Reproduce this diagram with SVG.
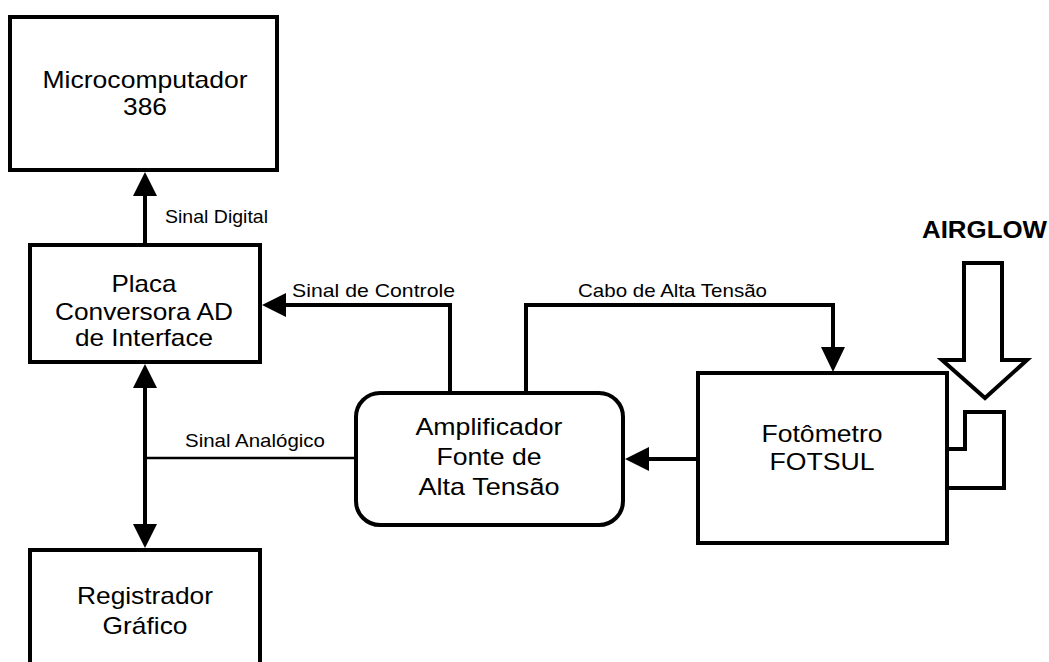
<svg xmlns="http://www.w3.org/2000/svg" width="1049" height="662" viewBox="0 0 1049 662">
<style>
.box{fill:#fff;stroke:#000;stroke-width:4}
.ln{fill:none;stroke:#000;stroke-width:4}
.thin{fill:none;stroke:#000;stroke-width:2.5}
.hd{fill:#000;stroke:none}
.nt{font-family:"Liberation Sans",Arial,sans-serif;font-size:24px;fill:#000;text-anchor:middle}
.lb{font-family:"Liberation Sans",Arial,sans-serif;font-size:19px;fill:#000}
.big{font-family:"Liberation Sans",Arial,sans-serif;font-size:23px;font-weight:bold;fill:#000}
</style>
<rect width="1049" height="662" fill="#fff"/>
<g id="connectors">
  <line class="ln" x1="145" y1="245" x2="145" y2="190"/>
  <polygon class="hd" points="145,172 133,196 157,196"/>
  <line class="ln" x1="145" y1="385" x2="145" y2="528"/>
  <polygon class="hd" points="145,364 133,388 157,388"/>
  <polygon class="hd" points="145,548 133,524 157,524"/>
  <line class="thin" x1="145" y1="458" x2="356" y2="458"/>
  <polyline class="ln" points="450,393 450,305 282,305"/>
  <polygon class="hd" points="262,305 286,293 286,317"/>
  <polyline class="ln" points="526,393 526,305 833,305 833,350"/>
  <polygon class="hd" points="833,372 821,347 845,347"/>
  <line class="ln" x1="698" y1="459" x2="645" y2="459"/>
  <polygon class="hd" points="625,459 649,447 649,471"/>
  <text class="lb" x="165" y="223" textLength="103" lengthAdjust="spacingAndGlyphs">Sinal Digital</text>
  <text class="lb" x="292" y="297" textLength="163" lengthAdjust="spacingAndGlyphs">Sinal de Controle</text>
  <text class="lb" x="578" y="297" textLength="189" lengthAdjust="spacingAndGlyphs">Cabo de Alta Tensão</text>
  <text class="lb" x="185" y="447" textLength="140" lengthAdjust="spacingAndGlyphs">Sinal Analógico</text>
</g>
<g id="microcomputador">
  <rect class="box" x="10" y="17" width="267" height="153"/>
  <text class="nt" x="145" y="88" textLength="205" lengthAdjust="spacingAndGlyphs">Microcomputador</text>
  <text class="nt" x="145" y="115" textLength="44" lengthAdjust="spacingAndGlyphs">386</text>
</g>
<g id="placa">
  <rect class="box" x="30" y="245" width="230" height="117"/>
  <text class="nt" x="144" y="292" textLength="65" lengthAdjust="spacingAndGlyphs">Placa</text>
  <text class="nt" x="144" y="320" textLength="178" lengthAdjust="spacingAndGlyphs">Conversora AD</text>
  <text class="nt" x="144" y="346" textLength="138" lengthAdjust="spacingAndGlyphs">de Interface</text>
</g>
<g id="registrador">
  <rect class="box" x="30" y="550" width="230" height="140"/>
  <text class="nt" x="145" y="604" textLength="136" lengthAdjust="spacingAndGlyphs">Registrador</text>
  <text class="nt" x="145" y="634" textLength="85" lengthAdjust="spacingAndGlyphs">Gráfico</text>
</g>
<g id="amplificador">
  <rect class="box" x="356" y="393" width="267" height="132" rx="24" ry="24"/>
  <text class="nt" x="489" y="435" textLength="147" lengthAdjust="spacingAndGlyphs">Amplificador</text>
  <text class="nt" x="489" y="465" textLength="105" lengthAdjust="spacingAndGlyphs">Fonte de</text>
  <text class="nt" x="489" y="495" textLength="141" lengthAdjust="spacingAndGlyphs">Alta Tensão</text>
</g>
<g id="fotometro">
  <rect class="box" x="698" y="373" width="249" height="170"/>
  <polyline class="ln" points="947,449 965,449 965,412 1004,412 1004,488 947,488"/>
  <text class="nt" x="822" y="442" textLength="121" lengthAdjust="spacingAndGlyphs">Fotômetro</text>
  <text class="nt" x="822" y="470" textLength="105" lengthAdjust="spacingAndGlyphs">FOTSUL</text>
</g>
<g id="airglow">
  <polygon class="box" points="964,263 1002,263 1002,360 1027,360 985,398 942,360 964,360"/>
  <text class="big" x="922" y="238" textLength="125" lengthAdjust="spacingAndGlyphs">AIRGLOW</text>
</g>
</svg>
